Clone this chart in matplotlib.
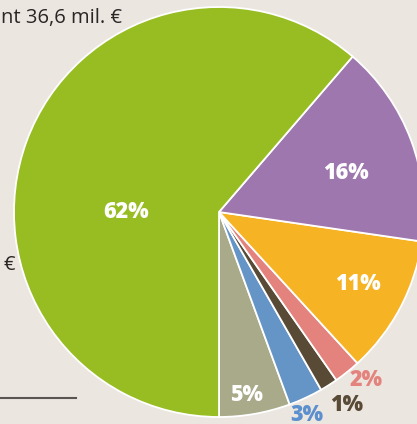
import matplotlib
matplotlib.use("Agg")
import matplotlib.pyplot as plt
import numpy as np

# Data (counterclockwise from the bottom)
labels = ["5%", "3%", "1%", "2%", "11%", "16%", "62%"]
values = [5.6, 2.7, 1.4, 2.1, 10.9, 16.0, 61.3]
colors = ["#a8aa89", "#6594c7", "#594a36", "#e4837e", "#f6b324", "#9e77ae", "#97bd22"]
label_colors = ["white", "#5b8fcd", "#594a36", "#e4837e", "white", "white", "white"]
# label placement: (angle in degrees, radius as fraction of pie radius)
label_pos = [(-81.3, 0.898), (-66.5, 1.075), (-56.3, 1.126), (-48.6, 1.085),
             (-27.1, 0.761), (17.5, 0.650), (179.4, 0.454)]

plt.rcParams['font.family'] = ['Open Sans', 'DejaVu Sans']

bg = "#ebe6e0"
fig = plt.figure(figsize=(4.17, 4.24), dpi=100, facecolor=bg)
ax = fig.add_axes([0, 0, 1, 1])
ax.set_facecolor(bg)

R = 205.0
ax.pie(values, colors=colors, startangle=270, counterclock=True, radius=1,
       wedgeprops=dict(edgecolor="white", linewidth=1.3))

for lab, col, (ang, r) in zip(labels, label_colors, label_pos):
    a = np.deg2rad(ang)
    ax.text(r * np.cos(a), r * np.sin(a) - 0.004, lab, color=col, fontsize=15.5,
            fontweight=800, ha="center", va="center")

ax.set_xlim(-219 / R, 198 / R)
ax.set_ylim(-212 / R, 212 / R)
ax.set_aspect("auto")
ax.axis("off")

fig.text(122 / 417, 1 - 18 / 424, "nt 36,6 mil. €", ha="right", va="center",
         fontsize=14.5, color="#2a2624")
fig.text(15 / 417, 1 - 265 / 424, "€", ha="right", va="center",
         fontsize=14.5, color="#2a2624")
fig.add_artist(plt.Line2D([0, 76 / 417], [1 - 398 / 424, 1 - 398 / 424],
                          color="#5a5552", linewidth=1.5, transform=fig.transFigure))

fig.savefig("out.png", dpi=100, facecolor=bg)
